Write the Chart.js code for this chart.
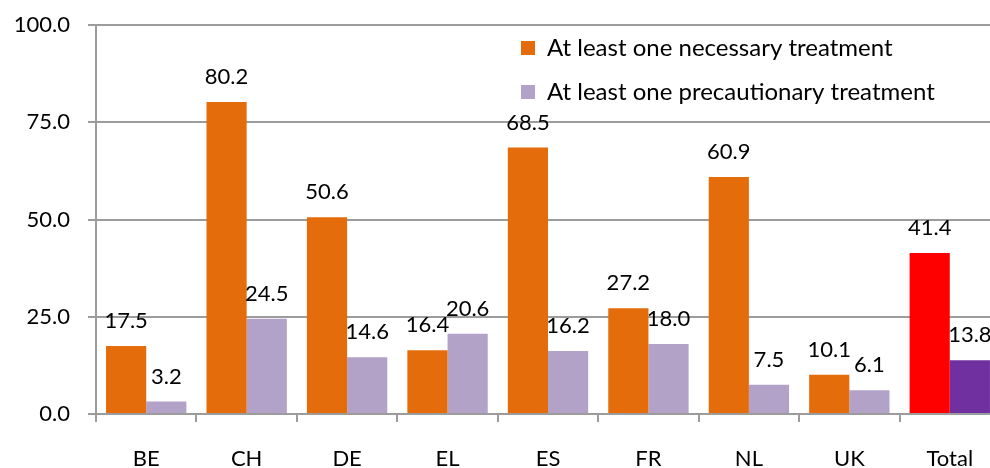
<!DOCTYPE html>
<html>
<head>
<meta charset="utf-8">
<script src="https://cdn.jsdelivr.net/npm/chart.js@4"></script>
<style>
    html, body { margin: 0; padding: 0; background: #ffffff; overflow: hidden; }
    #wrap { position: relative; width: 1000px; height: 474px; }
</style>
</head>
<body>
<div id="wrap"><canvas id="treatmentChart" width="1000" height="474"></canvas></div>
<script>
// Chart data
const categories = ['BE', 'CH', 'DE', 'EL', 'ES', 'FR', 'NL', 'UK', 'Total'];
const necessaryValues = [17.5, 80.2, 50.6, 16.4, 68.5, 27.2, 60.9, 10.1, 41.4];
const precautionaryValues = [3.2, 24.5, 14.6, 20.6, 16.2, 18.0, 7.5, 6.1, 13.8];
const seriesLabels = ['At least one necessary treatment', 'At least one precautionary treatment'];
const yTicks = [0, 25, 50, 75, 100];

const GRID = '#9c9c9c';
const FONT = 'Lato';

Chart.defaults.font.family = FONT;
Chart.defaults.font.size = 22;
Chart.defaults.color = '#000000';

// Total bars get their own colours
const isTotal = (ctx) => ctx.type === 'data' && categories[ctx.dataIndex] === 'Total';

// Value labels above each bar
const valueLabels = {
    id: 'valueLabels',
    afterDatasetsDraw(chart) {
        const ctx = chart.ctx;
        ctx.save();
        ctx.font = '22px ' + FONT;
        ctx.fillStyle = '#000000';
        ctx.textAlign = 'center';
        ctx.textBaseline = 'middle';
        chart.data.datasets.forEach((ds, i) => {
            chart.getDatasetMeta(i).data.forEach((bar, j) => {
                ctx.fillText(ds.data[j].toFixed(1), bar.x, bar.y - 25);
            });
        });
        ctx.restore();
    }
};

// Move the legend into the upper right of the plot
const legendInPlot = {
    id: 'legendInPlot',
    afterLayout(chart) {
        const lg = chart.legend;
        const area = chart.chartArea;
        lg.left = area.right - 499;
        lg.top = area.top - 9;
        lg.right = lg.left + 495;
        lg.bottom = lg.top + 120;
        lg.width = 495;
        lg.height = 120;
    }
};

const chart = new Chart(document.getElementById('treatmentChart'), {
    type: 'bar',
    data: {
        labels: categories,
        datasets: [
            {
                label: seriesLabels[0],
                data: necessaryValues,
                backgroundColor: (ctx) => isTotal(ctx) ? '#ff0000' : '#e46c0a',
                categoryPercentage: 0.8,
                barPercentage: 1.0
            },
            {
                label: seriesLabels[1],
                data: precautionaryValues,
                backgroundColor: (ctx) => isTotal(ctx) ? '#7030a0' : '#b3a2c7',
                categoryPercentage: 0.8,
                barPercentage: 1.0
            }
        ]
    },
    options: {
        responsive: false,
        animation: false,
        layout: { padding: { top: 25, left: 0, right: 0, bottom: 0 } },
        plugins: {
            tooltip: { enabled: false },
            legend: {
                position: 'chartArea',
                align: 'start',
                labels: {
                    boxWidth: 14,
                    boxHeight: 14,
                    padding: 20,
                    font: { size: 24 },
                    color: '#000000'
                }
            }
        },
        scales: {
            x: {
                grid: {
                    offset: true,
                    drawOnChartArea: false,
                    drawTicks: true,
                    tickLength: 8,
                    color: GRID,
                    lineWidth: 2
                },
                border: { display: true, color: GRID, width: 2 },
                ticks: { padding: 24, font: { size: 22 }, maxRotation: 0 },
                afterFit: (scale) => { scale.height = 60; }
            },
            y: {
                min: yTicks[0],
                max: yTicks[yTicks.length - 1],
                afterBuildTicks: (scale) => { scale.ticks = yTicks.map(v => ({ value: v })); },
                grid: {
                    color: GRID,
                    lineWidth: 2,
                    tickLength: 8
                },
                border: { display: true, color: GRID, width: 2 },
                ticks: {
                    padding: 18,
                    font: { size: 22 },
                    callback: (v) => Number(v).toFixed(1)
                },
                afterFit: (scale) => {
                    scale.width = 96;
                    scale.paddingTop = 0;
                    scale.paddingBottom = 0;
                }
            }
        }
    },
    plugins: [valueLabels, legendInPlot]
});
</script>
</body>
</html>
